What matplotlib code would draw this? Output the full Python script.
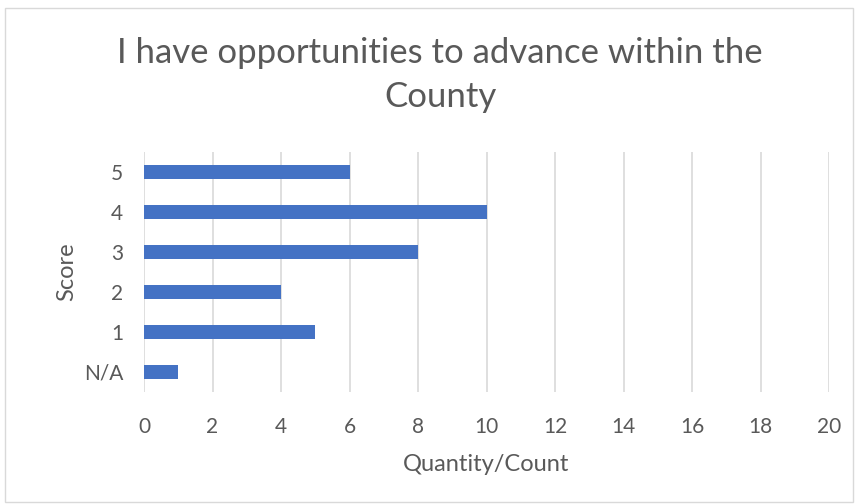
import matplotlib
matplotlib.use("Agg")
import matplotlib.pyplot as plt
from matplotlib.patches import Rectangle

categories = ["N/A", "1", "2", "3", "4", "5"]
counts = [1, 5, 4, 8, 10, 6]
x_ticks = [0, 2, 4, 6, 8, 10, 12, 14, 16, 18, 20]

title = "I have opportunities to advance within the\nCounty"
text_color = "#595959"
bar_color = "#4472C4"
grid_color = "#D9D9D9"

plt.rcParams["font.family"] = ["Lato", "DejaVu Sans"]

fig = plt.figure(figsize=(8.6, 5.04), dpi=100)
fig.patch.set_facecolor("white")
fig.patches.append(Rectangle((5 / 860, 2 / 504), 848 / 860, 494 / 504,
                             transform=fig.transFigure, fill=False,
                             edgecolor="#D9D9D9", linewidth=1))

ax = fig.add_axes([144 / 860, 1 - 392 / 504, (829 - 144) / 860, 240 / 504])
ypos = list(range(len(categories)))
ax.barh(ypos, counts, height=0.35, color=bar_color, zorder=3)

ax.set_xlim(0, 20)
ax.set_ylim(-0.5, len(categories) - 0.5)
ax.set_xticks(x_ticks)
ax.set_xticklabels([str(t) for t in x_ticks])
ax.set_yticks(ypos)
ax.set_yticklabels(categories)
ax.grid(axis="x", color=grid_color, linewidth=1.2, zorder=0)
for s in ax.spines.values():
    s.set_visible(False)
ax.tick_params(axis="both", length=0, colors=text_color, labelsize=15)
ax.tick_params(axis="x", pad=18)
ax.tick_params(axis="y", pad=15)

ax.set_xlabel("Quantity/Count", color=text_color, fontsize=17, labelpad=12)
ax.set_ylabel("Score", color=text_color, fontsize=17, labelpad=5)

fig.text(440 / 860, 1 - 75 / 504, title, ha="center", va="center", fontsize=25,
         color=text_color, linespacing=1.45)

fig.savefig("out.png", dpi=100)
